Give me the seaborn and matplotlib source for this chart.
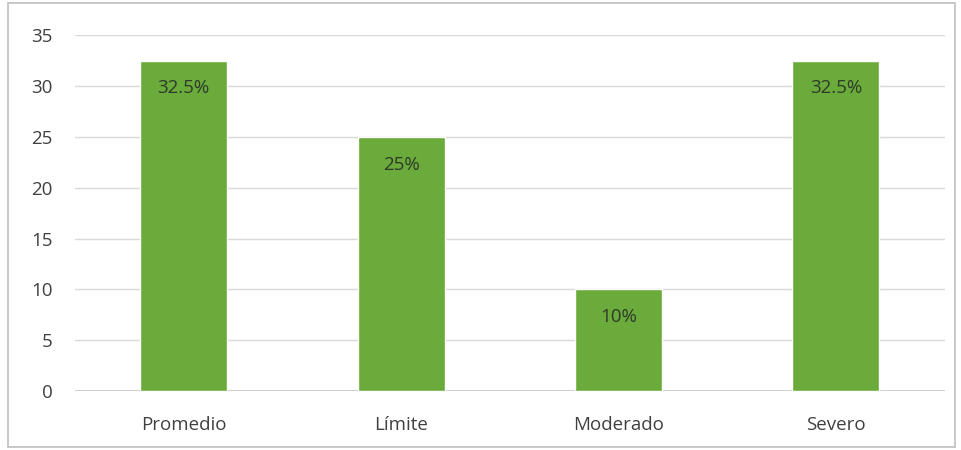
import matplotlib
matplotlib.use("Agg")
import matplotlib.pyplot as plt
import seaborn as sns
import pandas as pd
from matplotlib.patches import Rectangle

categories = ["Promedio", "Límite", "Moderado", "Severo"]
values = [32.5, 25, 10, 32.5]
labels = ["32.5%", "25%", "10%", "32.5%"]
yticks = [0, 5, 10, 15, 20, 25, 30, 35]

df = pd.DataFrame({"categoria": categories, "valor": values})

sns.set_theme(style="white")
plt.rcParams["font.family"] = ["Open Sans", "DejaVu Sans"]

fig = plt.figure(figsize=(9.62, 4.5), dpi=100)
ax = fig.add_axes([0.078, 0.131, 0.904, 0.791])

sns.barplot(data=df, x="categoria", y="valor", color="#6aab3b", width=0.4,
            saturation=1, ax=ax, zorder=3)

ax.set_ylim(0, 35)
ax.set_yticks(yticks)
ax.set_xlabel("")
ax.set_ylabel("")
ax.yaxis.grid(True, color="#d9d9d9", linewidth=1.0, zorder=0)
ax.set_axisbelow(True)
for s in ax.spines.values():
    s.set_visible(False)
ax.axhline(0, color="#c8c8c8", linewidth=1.2, zorder=2)
ax.tick_params(axis="both", length=0, labelsize=13.5, colors="#404040")
ax.tick_params(axis="y", pad=16)
ax.tick_params(axis="x", pad=18)

for bar, v, lab in zip(ax.patches, values, labels):
    ax.annotate(lab, (bar.get_x() + bar.get_width() / 2, v),
                xytext=(0, -20), textcoords="offset points",
                ha="center", va="center", fontsize=13.5, color="#2f3a2a", zorder=4)

fig.patches.append(Rectangle((8 / 962, 3 / 450), 947 / 962, 444 / 450,
                             transform=fig.transFigure, fill=False,
                             edgecolor="#bfbfbf", linewidth=1.2))

fig.savefig("out.png", dpi=100)
